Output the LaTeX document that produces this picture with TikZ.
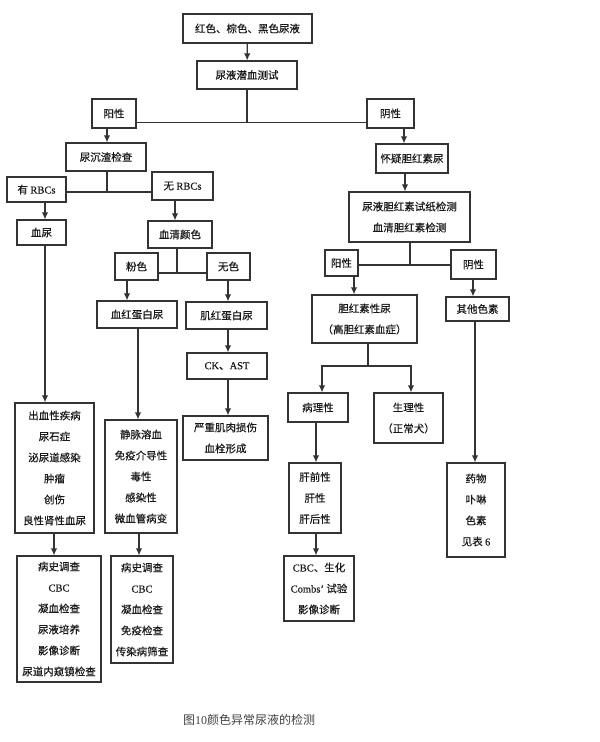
\documentclass[tikz,border=0pt]{standalone}
\usepackage{fontspec}
\setmainfont{Noto Sans CJK SC}[FakeBold=0.35]
\newfontfamily\lat{Liberation Serif}[FakeBold=0.35]
\newfontfamily\capfont{Noto Sans CJK SC}
\newfontfamily\caplat{Liberation Serif}
\usetikzlibrary{arrows.meta}

\begin{document}
\begin{tikzpicture}[x=1pt,y=-1pt,
    bx/.style={draw=black!80,text=black!90,line width=1.25pt,inner sep=0pt,align=center,font=\fontsize{10.5}{21}\selectfont},
    sz/.style 2 args={minimum width=#1pt,minimum height=#2pt},
    arr/.style={draw=black!80,line width=1.25pt,-{Latex[length=7pt,width=6.5pt]}},
    ln/.style={draw=black!80,line width=1.25pt}]
\useasboundingbox (0,0) rectangle (600,742);
\node[bx,sz={129}{29}] (urine) at (247.5,28.5) {红色、棕色、黑色尿液};
\node[bx,sz={100}{28}] (blood) at (247,75) {尿液潜血测试};
\node[bx,sz={44}{29}] (posA) at (114,113.5) {阳性};
\node[bx,sz={47}{29}] (negA) at (390.5,113.5) {阴性};
\node[bx,sz={80}{28}] (sed) at (106,157) {尿沉渣检查};
\node[bx,sz={72}{29}] (susp) at (412,158.5) {怀疑胆红素尿};
\node[bx,sz={59}{25}] (rbcY) at (36.5,189.5) {有 {\lat RBCs}};
\node[bx,sz={61}{28}] (rbcN) at (182.5,186) {无 {\lat RBCs}};
\node[bx,sz={49}{25}] (hemat) at (41.5,232.5) {血尿};
\node[bx,sz={64}{27}] (serum) at (180,234.5) {血清颜色};
\node[bx,sz={121}{50}] (bilit) at (409.5,217) {尿液胆红素试纸检测\\血清胆红素检测};
\node[bx,sz={43}{27}] (pink) at (136.5,266.5) {粉色};
\node[bx,sz={43}{27}] (clear) at (228.5,266.5) {无色};
\node[bx,sz={80}{27}] (hb) at (137,314.5) {血红蛋白尿};
\node[bx,sz={81}{27}] (mb) at (226.5,315.5) {肌红蛋白尿};
\node[bx,sz={80}{26}] (ck) at (227,366) {{\lat CK}、{\lat AST}};
\node[bx,sz={85}{44}] (muscle) at (225.5,438) {严重肌肉损伤\\血栓形成};
\node[bx,sz={72}{113}] (hemo) at (141,476.5) {静脉溶血\\免疫介导性\\毒性\\感染性\\微血管病变};
\node[bx,sz={79}{130}] (bleed) at (54.5,468) {出血性疾病\\尿石症\\泌尿道感染\\肿瘤\\创伤\\良性肾性血尿};
\node[bx,sz={33}{26}] (posB) at (341.5,263) {阳性};
\node[bx,sz={45}{29}] (negB) at (473.5,264.5) {阴性};
\node[bx,sz={105}{48}] (biliu) at (364.5,319) {胆红素性尿\\（高胆红素血症）};
\node[bx,sz={63}{24}] (other) at (477.5,309) {其他色素};
\node[bx,sz={60}{29}] (path) at (318,407.5) {病理性};
\node[bx,sz={69}{50}] (phys) at (408.5,418) {生理性\\（正常犬）};
\node[bx,sz={52}{70}] (liver) at (315,498) {肝前性\\肝性\\肝后性};
\node[bx,sz={58}{94}] (drug) at (476,510) {药物\\卟啉\\色素\\见表 {\lat 6}};
\node[bx,sz={84}{126}] (histA) at (59,619) {病史调查\\{\lat CBC}\\凝血检查\\尿液培养\\影像诊断\\尿道内窥镜检查};
\node[bx,sz={62}{107}] (histB) at (142,609.5) {病史调查\\{\lat CBC}\\凝血检查\\免疫检查\\传染病筛查};
\node[bx,sz={70}{65}] (cbc) at (319,588.5) {{\lat CBC}、生化\\{\lat Combs’} 试验\\影像诊断};
\node[text=black!75,font=\capfont\fontsize{12}{14}\selectfont] (cap) at (249,720) {图{\caplat 10}颜色异常尿液的检测};

\draw[arr] (urine) -- (blood);
\coordinate (j1) at (247,122.5);
\draw[ln] (blood) -- (j1);
\draw[ln] (posA.east |- j1) -- (negA.west |- j1);
\draw[arr] (107,0 |- posA.south) -- (107,0 |- sed.north);
\draw[arr] (404,0 |- negA.south) -- (404,0 |- susp.north);
\coordinate (j2) at (107,192);
\draw[ln] (107,0 |- sed.south) -- (j2);
\draw[ln] (rbcY.east |- j2) -- (rbcN.west |- j2);
\draw[arr] (45,0 |- rbcY.south) -- (45,0 |- hemat.north);
\draw[arr] (175,0 |- rbcN.south) -- (175,0 |- serum.north);
\draw[arr] (405,0 |- susp.south) -- (405,0 |- bilit.north);
\coordinate (j3) at (177,273);
\draw[ln] (177,0 |- serum.south) -- (j3);
\draw[ln] (pink.east |- j3) -- (clear.west |- j3);
\draw[arr] (127,0 |- pink.south) -- (127,0 |- hb.north);
\draw[arr] (228,0 |- clear.south) -- (228,0 |- mb.north);
\draw[arr] (228,0 |- mb.south) -- (228,0 |- ck.north);
\draw[arr] (228,0 |- ck.south) -- (228,0 |- muscle.north);
\draw[arr] (138,0 |- hb.south) -- (138,0 |- hemo.north);
\draw[arr] (45,0 |- hemat.south) -- (45,0 |- bleed.north);
\coordinate (j4) at (410,265);
\draw[ln] (410,0 |- bilit.south) -- (j4);
\draw[ln] (posB.east |- j4) -- (negB.west |- j4);
\draw[arr] (354,0 |- posB.south) -- (354,0 |- biliu.north);
\draw[arr] (473,0 |- negB.south) -- (473,0 |- other.north);
\coordinate (j5) at (368,366);
\draw[ln] (368,0 |- biliu.south) -- (j5);
\draw[arr] (j5) -| (322,0 |- path.north);
\draw[arr] (j5) -| (411,0 |- phys.north);
\draw[arr] (316,0 |- path.south) -- (316,0 |- liver.north);
\draw[arr] (475,0 |- other.south) -- (475,0 |- drug.north);
\draw[arr] (54,0 |- bleed.south) -- (54,0 |- histA.north);
\draw[arr] (139,0 |- hemo.south) -- (139,0 |- histB.north);
\draw[arr] (316,0 |- liver.south) -- (316,0 |- cbc.north);
\end{tikzpicture}
\end{document}
